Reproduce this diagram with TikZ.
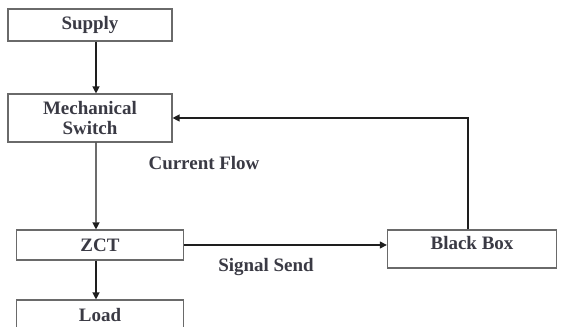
\documentclass[tikz,border=0pt]{standalone}
\usepackage{fontspec}
\setmainfont{Liberation Serif}
\usetikzlibrary{arrows.meta,positioning,calc}
\definecolor{Paper}{HTML}{FFFFFF}
\definecolor{BoxLine}{HTML}{6A6A6A}
\definecolor{Wire}{HTML}{1E1E1E}
\definecolor{TextDark}{HTML}{3A3A44}

\begin{document}
\begin{tikzpicture}[x=0.025cm,y=-0.025cm,font=\fontsize{13.5}{15}\selectfont\bfseries,text=TextDark,>={Triangle[length=5pt,width=5pt]},
blk/.style={draw=BoxLine,line width=0.8pt,fill=Paper,inner sep=2pt,align=center,minimum width=4.1cm},
wire/.style={Wire,line width=0.9pt}]
\useasboundingbox[fill=Paper] (0,0) rectangle (561,327);
\node[blk,minimum height=0.8cm] (supply) at (90,25){Supply};
\node[blk,minimum height=1.2cm] (mech) at (90,118){Mechanical\\[-1pt]Switch};
\node[blk,minimum height=0.75cm,minimum width=4.18cm] (zct) at (100,245){ZCT};
\node[blk,minimum height=0.75cm,minimum width=4.18cm] (load) at (100,315){Load};
\node[blk,minimum height=0.95cm,minimum width=4.23cm,text depth=9pt] (bbox) at (472,249){Black Box};
\node (cflow) at (204,163){Current Flow};
\node (ssend) at (266,267){Signal Send};
\draw[wire,->] ([xshift=0.15cm]supply.south) -- ([xshift=0.15cm]mech.north);
\draw[wire,->] ([xshift=0.15cm]mech.south) -- ([xshift=-0.1cm]zct.north);
\draw[wire,->] ([xshift=-0.1cm]zct.south) -- ([xshift=-0.1cm]load.north);
\draw[wire,->] (zct.east) -- (zct.east -| bbox.west);
\draw[wire,->] ([xshift=-0.1cm]bbox.north) |- (mech.east);
\end{tikzpicture}
\end{document}
